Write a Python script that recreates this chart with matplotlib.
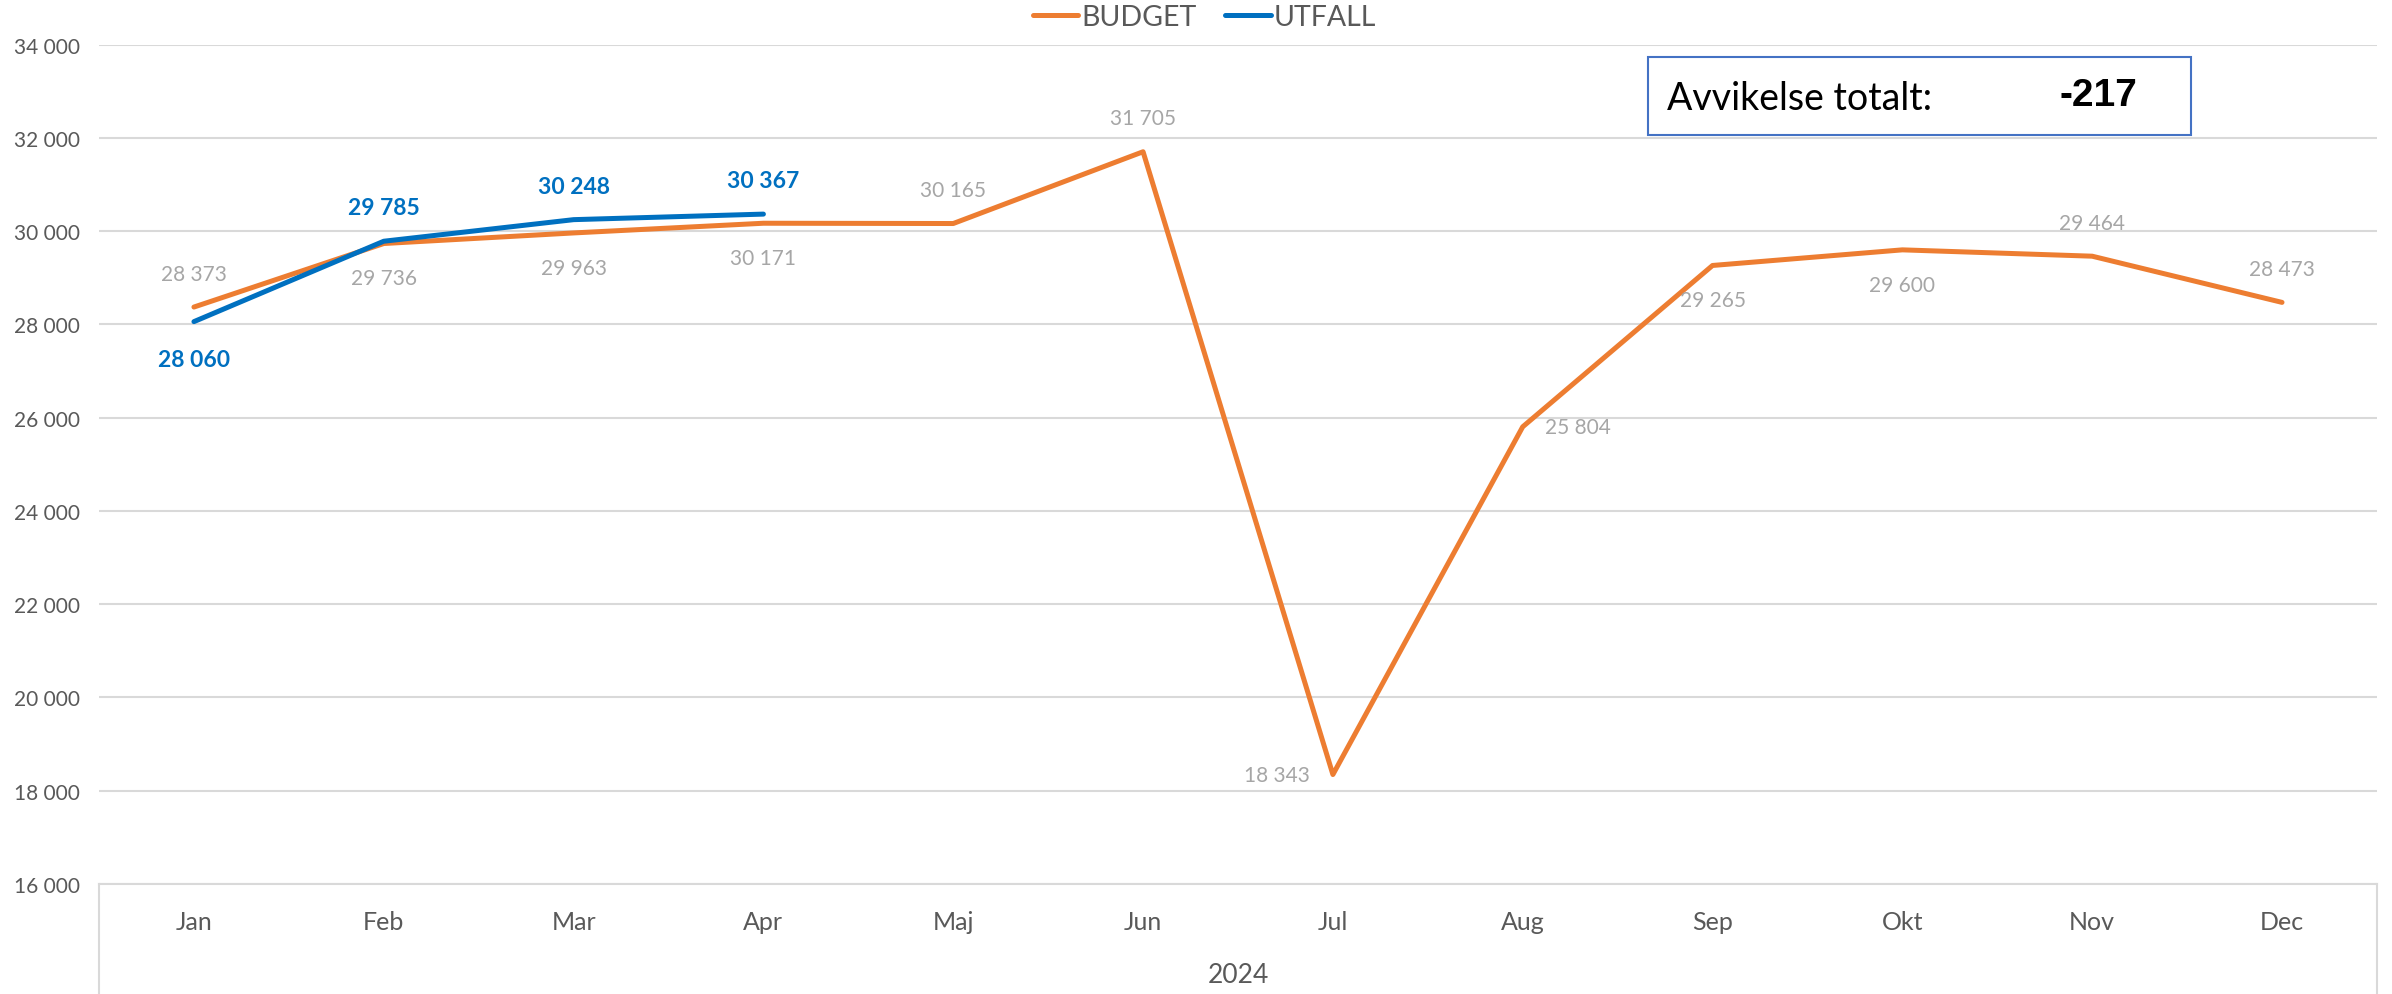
import matplotlib
matplotlib.use("Agg")
import matplotlib.pyplot as plt
from matplotlib.ticker import FuncFormatter, MultipleLocator
from matplotlib.patches import Rectangle

plt.rcParams['font.family'] = ['Lato', 'DejaVu Sans']

months = ["Jan", "Feb", "Mar", "Apr", "Maj", "Jun", "Jul", "Aug", "Sep", "Okt", "Nov", "Dec"]
budget = [28373, 29736, 29963, 30171, 30165, 31705, 18343, 25804, 29265, 29600, 29464, 28473]
utfall = [28060, 29785, 30248, 30367]
# where each data label sits relative to its point
budgetLabelPos = ["above", "below", "below", "below", "above", "above", "left", "right", "below", "below", "above", "above"]
utfallLabelPos = ["below", "above", "above", "above"]
year = "2024"
deviationText = "Avvikelse totalt:"
deviationValue = "-217"

ORANGE = "#ED7D31"
BLUE = "#0070C0"
GRAY_LABEL = "#A6A6A6"
TICK = "#595959"
GRID = "#D9D9D9"


def fmt(v, pos=None):
    return f"{int(v):,}".replace(",", " ")


offsets = {"above": (0, 24), "below": (0, -25), "left": (-40, 0), "right": (40, 0)}

fig = plt.figure(figsize=(23.92, 9.95), dpi=100)
ax = fig.add_axes([0.0414, 0.1108, 0.9523, 0.8432])

x = list(range(len(months)))
ax.plot(x, budget, color=ORANGE, linewidth=3.6, solid_capstyle='round', label="BUDGET", zorder=3)
ax.plot(x[:len(utfall)], utfall, color=BLUE, linewidth=3.6, solid_capstyle='round', label="UTFALL", zorder=4)

for i, (v, p) in enumerate(zip(budget, budgetLabelPos)):
    ax.annotate(fmt(v), (i, v), xytext=offsets[p], textcoords='offset points',
                ha='center', va='center', fontsize=15, color=GRAY_LABEL)
uOffsets = {"above": (0, 24), "below": (0, -27)}
for i, (v, p) in enumerate(zip(utfall, utfallLabelPos)):
    ax.annotate(fmt(v), (i, v), xytext=uOffsets[p], textcoords='offset points',
                ha='center', va='center', fontsize=16.5, color=BLUE, fontweight='bold')

ax.set_xlim(-0.5, len(months) - 0.5)
ax.set_ylim(16000, 34000)
ax.yaxis.set_major_locator(MultipleLocator(2000))
ax.yaxis.set_major_formatter(FuncFormatter(fmt))
ax.set_xticks(x)
ax.set_xticklabels(months)
ax.grid(axis='y', color=GRID, linewidth=1.5, zorder=0)
ax.tick_params(axis='y', length=0, pad=14, labelsize=15, labelcolor=TICK)
ax.tick_params(axis='x', length=0, pad=19, labelsize=18, labelcolor=TICK)
for side in ['top', 'right', 'left']:
    ax.spines[side].set_visible(False)
ax.spines['bottom'].set_color(GRID)
ax.spines['bottom'].set_linewidth(1.5)

# category box under the axis
for xa in (0, 1):
    ax.plot([xa, xa], [0, -0.14], transform=ax.transAxes, color=GRID, linewidth=1.5, clip_on=False)
ax.text(0.5, -0.108, year, transform=ax.transAxes, ha='center', va='center', fontsize=19, color=TICK)

fig.legend(loc='center', bbox_to_anchor=(0.5035, 0.982), ncol=2, frameon=False, fontsize=20.5,
           handlelength=1.6, handletextpad=0.1, columnspacing=1.0, labelcolor=TICK)

# deviation box
fig.patches.append(Rectangle((1648 / 2392, 1 - 136 / 995), (2191 - 1648) / 2392, 78 / 995,
                             transform=fig.transFigure, fill=False, edgecolor="#4472C4", linewidth=1.5))
fig.text(1667 / 2392, 1 - 99 / 995, deviationText, ha='left', va='center', fontsize=27, color='black')
fig.text(2098 / 2392, 1 - 96 / 995, deviationValue, ha='center', va='center', fontsize=28,
         color='black', fontweight='bold', family=['Liberation Sans', 'DejaVu Sans'])

fig.savefig("out.png", dpi=100)
